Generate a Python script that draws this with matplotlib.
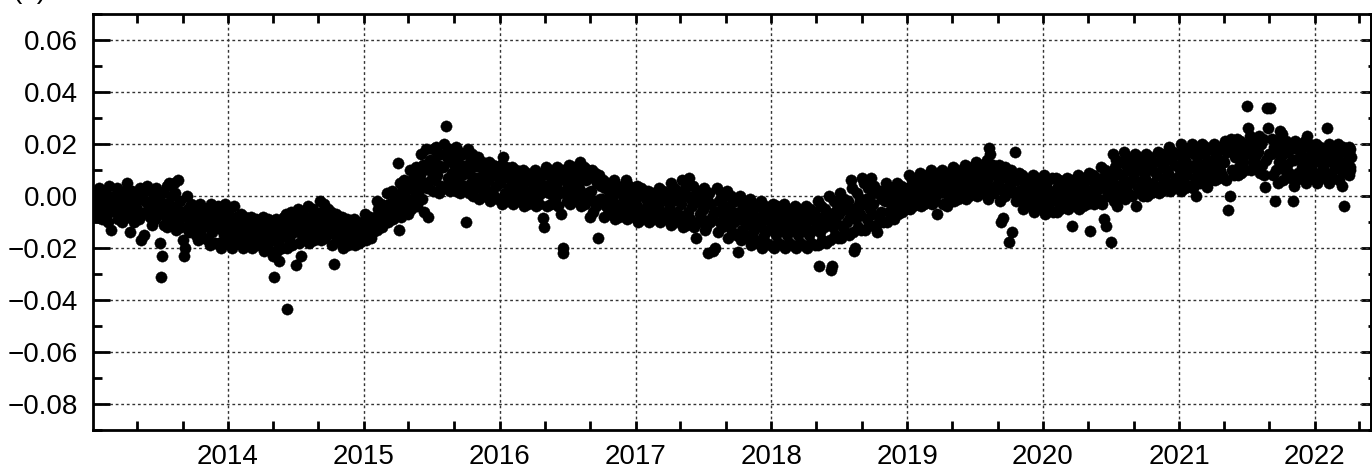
import matplotlib

matplotlib.use("Agg")
import matplotlib.pyplot as plt
import matplotlib.dates as mdates
from matplotlib.ticker import MultipleLocator, FuncFormatter
import pandas as pd

# values in units of 0.001, one inner list per calendar month
Y2013 = [
    [-3, 1, -6, -2, -8, 0, -4, 3, -5, -1, -9, -3],
    [-4, 2, -7, -1, -10, -3, 4, -6, -13, -2, -5, 0],
    [-2, -6, 3, -9, -4, 1, -7, -3, -10, 0, -5, 2],
    [-3, 5, -8, -1, -14, -4, 2, -6, -10, 0, -3, -7],
    [-5, 0, -9, 3, -17, -7, 1, -15, -2, -6, 4, -3],
    [-4, -8, 2, -11, -3, -6, 0, -9, 3, -5, -1, -7],
    [-18, -31, -23, -6, 1, -11, -3, -8, 4, -12, -5, 5, -9, 0],
    [-4, -10, 5, -7, 1, -13, -5, 6, -9, -2, -12, -6],
    [-17, -23, -20, -8, -12, 0, -5, -14, -9, -3, -11, -6, -13],
    [-9, -4, -15, -7, -17, -11, -3, -13, -6, -10, -16, -8],
    [-10, -5, -17, -8, -19, -12, -3, -14, -7, -11, -18, -9],
    [-11, -4, -18, -9, -20, -13, -6, -15, -3, -12, -17, -8],
]
Y2014 = [
    [-12, -5, -19, -9, -20, -14, -4, -16, -8, -11, -18, -13],
    [-13, -7, -19, -10, -20, -15, -8, -17, -11, -14, -18, -12],
    [-13, -8, -20, -11, -17, -15, -9, -19, -12, -14, -10, -16],
    [-14, -8, -21, -11, -18, -16, -9, -20, -12, -15, -10, -17],
    [-23, -31, -14, -9, -21, -12, -18, -25, -16, -10, -20, -13, -8],
    [-13, -7, -20, -43.5, -10, -17, -15, -6, -19, -11, -14, -9],
    [-26.5, -12, -5, -18, -9, -23, -15, -7, -16, -11, -13, -17],
    [-11, -4, -18, -8, -15, -13, -5, -17, -9, -12, -7, -14],
    [-10, -2, -17, -6, -14, -12, -3, -16, -8, -11, -5, -13],
    [-12, -6, -19, -9, -26, -15, -7, -17, -10, -13, -8, -18],
    [-13, -8, -20, -11, -17, -15, -9, -19, -12, -14, -10, -16],
    [-14, -9, -19, -12, -17, -16, -10, -18, -13, -15, -11, -17],
]
Y2015 = [
    [-12, -7, -17, -10, -15, -13, -8, -16, -11, -14, -9, -12],
    [-8, -2, -13, -5, -11, -9, -3, -12, -6, -10, -4, -7],
    [-5, 1, -10, -3, -8, -6, 2, -9, -2, -7, 0, -4],
    [12.7, -13, -1, 5, -8, 2, -4, 6, -6, 0, -3, 3, -7],
    [3, 10, -5, 6, -2, 8, 0, 11, -4, 4, 1, 7],
    [8, 16, -1, 12, -6, 5, 18, 3, -8, 10, 14, 6],
    [10, 18, 2, 14, 6, 19, 8, 12, 1, 16, 4, 11],
    [11, 20, 3, 27, 15, 7, 18, 2, 13, 9, 17, 5],
    [10, 19, 2, 14, 6, 17, 1, 12, 8, 16, 4, 11],
    [-10, 9, 18, 1, 13, 5, 16, 0, 11, 7, 15, 3],
    [7, 15, -1, 11, 3, 13, 0, 9, 5, 12, 2, 8],
    [6, 13, -2, 10, 2, 12, 0, 8, 4, 11, -1, 7],
]
Y2016 = [
    [5, 12, -3, 15, 9, 1, 11, -2, 7, 3, 10, 0],
    [4, 11, -3, 8, 1, 10, -2, 6, 2, 9, -1, 5],
    [4, 10, -4, 7, 1, 9, -3, 6, 2, 8, -1, 3],
    [3, 10, -4, 7, 0, 9, -3, 5, 1, 8, -8.5, -12],
    [4, 11, -4, 8, 1, 10, -3, 6, 2, 9, -1, 5],
    [4, 11, -4, 8, 1, -7, 10, -22, -20, 6, 2, 9, -2],
    [4, 12, -3, 9, 1, 11, -2, 7, 2, 10, 0, 5],
    [3, 13, -4, 8, 0, 11, -3, 6, 1, 10, -1, -8],
    [2, 10, -6, 7, -2, 9, -4, 5, -16, 8, -1, 4],
    [-1, 6, -8, 3, -4, 5, -7, 2, -3, 4, -6, 0],
    [-2, 6, -9, 2, -5, 4, -8, 1, -4, 3, -7, -1],
    [-2, 6, -9, 3, -5, 4, -8, 1, -4, 2, -7, -1],
]
Y2017 = [
    [-3, 4, -10, 1, -6, 3, -9, 0, -5, 2, -8, -2],
    [-4, 2, -10, 0, -7, 1, -9, -2, -6, 1, -8, -3],
    [-4, 3, -10, 0, -7, 2, -9, -1, -6, 1, -8, -3],
    [-3, 5, -11, 1, -7, 3, -10, 0, -6, 2, -9, -2],
    [-3, 6, -12, 2, -8, 4, -11, 0, -6, 7, -9, -1],
    [-4, 4, -12, 0, -16, 2, -10, -2, -7, 1, -9, -5],
    [-5, 3, -13, -12, -1, -22, 1, -10, -3, -8, -21, -6],
    [-20, -6, 3, -14, -2, -10, 1, -12, -4, -9, 0, -7],
    [-8, 2, -16, -4, -12, 0, -14, -6, -10, -2, -15, -7],
    [-21.5, -9, 0, -17, -5, -13, -2, -15, -7, -11, -3, -16],
    [-10, -1, -19, -6, -14, -3, -17, -8, -12, -4, -18, -9],
    [-11, -2, -20, -7, -15, -4, -18, -9, -13, -5, -19, -10],
]
Y2018 = [
    [-11, -3, -20, -7, -15, -4, -18, -9, -13, -5, -19, -10],
    [-11, -3, -20, -7, -15, -5, -18, -9, -13, -6, -19, -12],
    [-11, -4, -20, -8, -15, -5, -18, -9, -13, -6, -19, -12],
    [-11, -4, -20, -8, -15, -5, -18, -9, -13, -6, -19, -12],
    [-10, -2, -19, -27, -14, -4, -17, -8, -12, -5, -18, -11],
    [-8, 0, -17, -28.5, -27, -12, -2, -15, -6, -10, -3, -16],
    [-7, 1, -16, -4, -12, -1, -14, -5, -10, -2, -15, -8],
    [6, -5, 3, -14, -21, -20, -9, 1, -12, -3, -7, -1, -13],
    [7, -3, 5, -13, -1, -9, 3, -11, -5, 7, -7, 1],
    [-3, 4, -12, -11, -14, 1, -8, 2, -6, -1, -10, 0],
    [-2, 5, -10, 0, -6, 3, -8, -1, -4, 2, -9, -3],
    [-1, 5, -7, 2, -4, 4, -6, 0, -3, 3, -5, 1],
]
Y2019 = [
    [1, 8, -5, 4, -2, 6, -4, 2, -1, 7, -3, 3],
    [2, 9, -4, 5, -1, 7, -3, 3, 0, 8, -2, 4],
    [3, 10, -3, 6, 0, 8, -2, 4, -7, 9, 1, 5],
    [4, 10, -3, 7, 1, 9, -4, 5, 2, 8, -1, 6],
    [4, 11, -2, 7, 1, 10, -1, 5, 2, 9, 0, 6],
    [5, 12, -1, 8, 2, 11, 0, 6, 3, 10, 1, 7],
    [6, 13, 0, 9, 3, 12, 1, 7, 4, 11, 2, 8],
    [6, 14, -1, 18.5, 16, 10, 3, 12, 1, 8, 4, 11],
    [5, 12, -2, -10, 9, -8.5, 2, 11, 0, 7, 3, 10],
    [-17.7, 4, 10, -14, 7, 1, 17, -2, 6, 2, 9, 0],
    [2, 8, -5, 5, -1, 7, -3, 3, 0, 6, -4, 4],
    [1, 8, -6, 5, -2, 7, -4, 3, -1, 6, -5, 2],
]
Y2020 = [
    [0, 8, -7, 4, -3, 6, -5, 2, -2, 7, -6, 1],
    [0, 7, -6, 4, -3, 6, -5, 2, -1, 5, -4, 1],
    [1, 7, -5, 4, -2, 6, -11.5, 3, -1, 5, -4, 2],
    [1, 8, -5, 5, -2, 7, -4, 3, 0, 6, -3, 2],
    [2, 9, -13.4, 6, -1, 8, -3, 4, 0, 7, -2, 3],
    [3, 11, -3, 7, -9, 10, -11.5, 5, 0, 9, 1, 4],
    [-17.5, 6, 16, -2, 11, 2, 14, -4, 9, 4, 13, 0, 8],
    [7, 17, -1, 12, 3, 15, 1, 10, 5, 14, 0, 9],
    [7, 16, -4, 12, 3, 15, 1, 10, 5, 14, 0, 9],
    [7, 16, 0, 12, 3, 15, 1, 10, 5, 13, 2, 9],
    [8, 17, 1, 13, 4, 16, 2, 11, 6, 15, 3, 10],
    [9, 19, 2, 14, 5, 17, 3, 12, 7, 16, 4, 11],
]
Y2021 = [
    [10, 20, 2, 15, 6, 18, 3, 13, 8, 17, 4, 11],
    [11, 20, 3, 16, 7, 19, 0, 13, 9, 17, 5, 12],
    [12, 20, 5, 16, 8, 19, 3.5, 14, 10, 18, 6, 13],
    [12, 20, 6, 16, 9, 19, 7, 14, 10, 18, 8, 13],
    [13, 21, 6, 17, -5.4, 19, 0, 22, 10, 18, 8, 15],
    [15, 22, 8, 19, 11, 21, 9, 17, 13, 20, 10, 16],
    [34.6, 26, 17, 23, 10, 21, 13, 19, 15, 22, 12, 18],
    [17, 23, 9, 20, 12, 22, 8, 3.5, 14, 34, 26, 16],
    [34, 16, 22, 8, 19, -2, 21, 10, 17, 5, 13, 25],
    [15, 24, 6, 19, 10, 21, 12, 17, 9, 20, 7, 14],
    [-2, 4, 14, 21, 6, 18, 9, 20, 7, 16, 11, 19],
    [14, 21, 5, 23, 9, 20, 7, 16, 11, 18, 8, 13],
]
Y2022 = [
    [14, 20, 5, 17, 9, 19, 7, 15, 11, 18, 8, 13],
    [26, 14, 20, 5, 17, 9, 19, 7, 15, 11, 18, 12],
    [15, 20, 6, 17, 10, 4, 19, -4, 13, 18, 9, 16],
    [14, 19, 8, 17, 11, 18, 10, 15],
]

YEARS = [
    (2013, Y2013), (2014, Y2014), (2015, Y2015), (2016, Y2016), (2017, Y2017),
    (2018, Y2018), (2019, Y2019), (2020, Y2020), (2021, Y2021), (2022, Y2022),
]
LAST_DAY = pd.Timestamp("2022-04-08")


def build_series():
    dates, vals = [], []
    for year, months in YEARS:
        for m, month_vals in enumerate(months, start=1):
            start = pd.Timestamp(year=year, month=m, day=1)
            end = min(start + pd.offsets.MonthBegin(1), LAST_DAY)
            step = (end - start) / len(month_vals)
            for i, v in enumerate(month_vals):
                dates.append(start + step * (i + 0.5))
                vals.append(v / 1000)
    return dates, vals


def minus_fmt(v, _pos):
    return f"{v:.2f}".replace("-", "\u2212")


def main() -> None:
    plt.rcParams["font.family"] = ["Liberation Sans", "DejaVu Sans"]
    plt.rcParams["font.size"] = 20

    dates, vals = build_series()

    fig = plt.figure(figsize=(13.72, 4.68), dpi=100)
    ax = fig.add_axes([93 / 1372, 38 / 468, 1278 / 1372, 416 / 468])
    ax.scatter(dates, vals, s=66, c="black", edgecolors="black", linewidths=0.3, zorder=3)

    ax.set_xlim(pd.Timestamp("2013-01-03"), pd.Timestamp("2022-06-01"))
    ax.set_ylim(-0.09, 0.07)

    ax.xaxis.set_major_locator(mdates.YearLocator())
    ax.xaxis.set_major_formatter(mdates.DateFormatter("%Y"))
    ax.xaxis.set_minor_locator(mdates.MonthLocator(bymonth=[1, 5, 9]))
    ax.yaxis.set_major_locator(MultipleLocator(0.02))
    ax.yaxis.set_minor_locator(MultipleLocator(0.01))
    ax.yaxis.set_major_formatter(FuncFormatter(minus_fmt))

    ax.tick_params(which="both", direction="in", width=2, top=True, right=False)
    ax.tick_params(axis="x", which="both", length=6.5, pad=10)
    ax.tick_params(axis="y", which="major", length=12, pad=11)
    ax.tick_params(axis="y", which="minor", length=6.5)

    sec = ax.secondary_yaxis("right")
    sec.yaxis.set_major_locator(MultipleLocator(0.02))
    sec.yaxis.set_minor_locator(MultipleLocator(0.01))
    sec.tick_params(which="both", direction="in", width=2, labelright=False)
    sec.tick_params(which="major", length=7)
    sec.tick_params(which="minor", length=2.5)
    sec.spines["right"].set_linewidth(2)

    for spine in ax.spines.values():
        spine.set_linewidth(2)

    ax.grid(which="major", linestyle=(0, (2, 2)), linewidth=1.0, color="#333333")
    ax.set_axisbelow(True)

    fig.text(12 / 1372, 1 + 2 / 468, "(a)", ha="left", va="baseline", fontsize=20)

    fig.savefig("out.png", dpi=100)
    plt.close(fig)


if __name__ == "__main__":
    main()
